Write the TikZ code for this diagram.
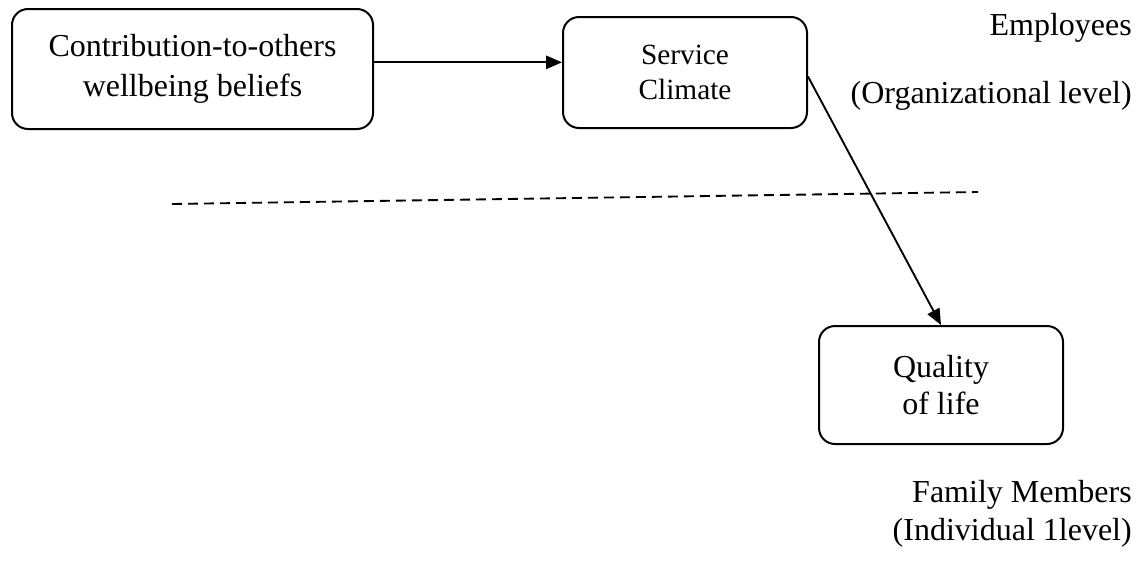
\documentclass[tikz,border=0pt]{standalone}
\usepackage{fontspec}
\setmainfont{Liberation Serif}
\usepackage{tikz}
\usetikzlibrary{arrows.meta}

\begin{document}
\begin{tikzpicture}[x=0.75pt,y=-0.75pt,
    box/.style={draw,line width=1.5pt,rounded corners=12pt,align=center,inner sep=0pt,
      font=\fontsize{24}{30}\selectfont},
    lbl/.style={anchor=base east,inner sep=0pt,font=\fontsize{24}{30}\selectfont},
    arr/.style={line width=1.4pt,-{Triangle[length=12pt,width=10pt]}}]
    \useasboundingbox (0,0) rectangle (1142,561);
    % constructs
    \node[box,minimum width=270.75pt,minimum height=90pt] (ctb) at (192.5,69)
      {Contribution-to-others\\wellbeing beliefs};
    \node[box,minimum width=183pt,minimum height=83.25pt,
      font=\fontsize{22}{26}\selectfont] (svc) at (685,72.5) {Service\\Climate};
    \node[box,minimum width=183pt,minimum height=88.5pt,
      font=\fontsize{24}{28}\selectfont] (qol) at (941,385) {Quality\\of life};
    % levels
    \node[lbl] (emp) at (1132,35) {Employees};
    \node[lbl] (org) at (1132,103) {(Organizational level)};
    \node[lbl] (fam) at (1132,502) {Family Members};
    \node[lbl] (ind) at (1132,540) {(Individual 1level)};
    \coordinate (dl) at (172,204);
    \coordinate (dr) at (978,192);
    \draw[line width=1.4pt,dash pattern=on 7.5pt off 4.5pt] (dl) -- (dr);
    \draw[arr] ([yshift=5pt]ctb.east) -- ([yshift=5pt]ctb.east -| svc.west);
    \draw[arr] ([yshift=-3pt]svc.east) -- (qol.north);
  \end{tikzpicture}
\end{document}
